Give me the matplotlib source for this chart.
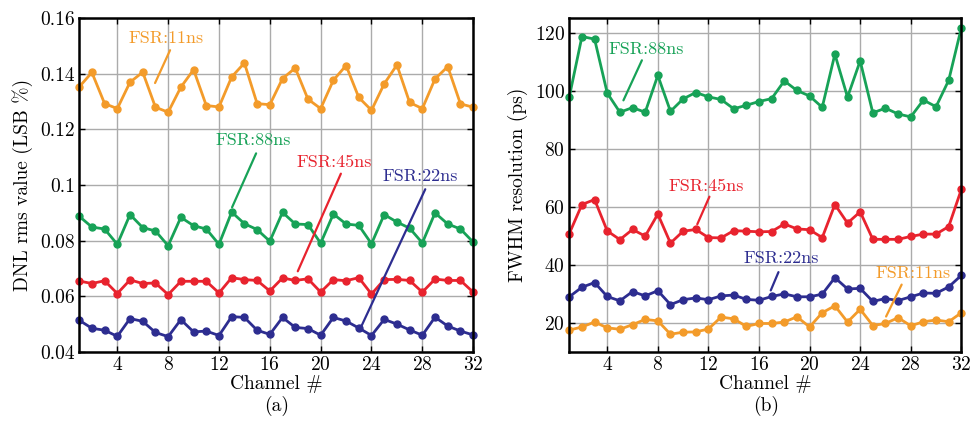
import matplotlib
matplotlib.use("Agg")
import matplotlib.pyplot as plt
import numpy as np

plt.rcParams["font.family"] = ["cmr10", "DejaVu Serif"]
plt.rcParams["axes.formatter.use_mathtext"] = True

channels = np.arange(1, 33)

# (a) DNL rms value (LSB %)
dnl_11ns = [0.1353, 0.1405, 0.1293, 0.1275, 0.1370, 0.1406, 0.1280, 0.1262,
            0.1352, 0.1415, 0.1286, 0.1281, 0.1389, 0.1439, 0.1293, 0.1289,
            0.1383, 0.1421, 0.1309, 0.1275, 0.1377, 0.1430, 0.1315, 0.1269,
            0.1364, 0.1432, 0.1297, 0.1275, 0.1382, 0.1426, 0.1292, 0.1280]
dnl_88ns = [0.0888, 0.0849, 0.0842, 0.0787, 0.0894, 0.0847, 0.0835, 0.0782,
            0.0884, 0.0854, 0.0842, 0.0787, 0.0903, 0.0861, 0.0840, 0.0798,
            0.0902, 0.0860, 0.0858, 0.0791, 0.0896, 0.0860, 0.0855, 0.0789,
            0.0894, 0.0867, 0.0845, 0.0792, 0.0900, 0.0860, 0.0842, 0.0795]
dnl_45ns = [0.0655, 0.0646, 0.0656, 0.0610, 0.0659, 0.0646, 0.0648, 0.0606,
            0.0654, 0.0654, 0.0654, 0.0612, 0.0667, 0.0660, 0.0657, 0.0619,
            0.0666, 0.0657, 0.0663, 0.0615, 0.0660, 0.0656, 0.0667, 0.0608,
            0.0660, 0.0661, 0.0657, 0.0615, 0.0662, 0.0657, 0.0657, 0.0615]
dnl_22ns = [0.0514, 0.0485, 0.0478, 0.0456, 0.0520, 0.0510, 0.0470, 0.0455,
            0.0516, 0.0472, 0.0475, 0.0459, 0.0527, 0.0524, 0.0478, 0.0463,
            0.0524, 0.0488, 0.0484, 0.0460, 0.0524, 0.0511, 0.0486, 0.0459,
            0.0517, 0.0500, 0.0479, 0.0460, 0.0525, 0.0493, 0.0475, 0.0461]

# (b) FWHM resolution (ps)
fwhm_88ns = [97.9, 118.7, 117.8, 99.2, 92.6, 94.2, 92.6, 105.3,
             92.9, 97.2, 99.4, 97.9, 97.0, 93.8, 95.0, 96.3,
             97.3, 103.4, 100.1, 98.2, 94.3, 112.6, 97.8, 110.3,
             92.4, 94.0, 92.0, 91.0, 96.8, 94.5, 103.6, 121.7]
fwhm_45ns = [50.8, 60.8, 62.5, 51.7, 48.7, 52.2, 49.9, 57.5,
             47.5, 51.6, 52.2, 49.4, 49.3, 51.8, 51.6, 51.4,
             51.5, 54.1, 52.4, 52.1, 49.4, 60.8, 54.4, 58.3,
             48.8, 48.8, 48.8, 49.8, 50.6, 50.6, 53.2, 66.0]
fwhm_22ns = [29.0, 32.3, 33.9, 29.1, 27.6, 30.8, 29.3, 31.1,
             26.3, 28.0, 28.6, 28.0, 29.3, 29.6, 28.1, 27.8,
             29.1, 30.0, 29.0, 29.0, 29.9, 35.6, 31.7, 31.9,
             27.4, 28.4, 27.7, 29.0, 30.3, 30.2, 32.4, 36.4]
fwhm_11ns = [17.5, 18.6, 20.3, 18.3, 17.8, 19.4, 21.2, 20.7,
             16.1, 16.8, 16.9, 17.9, 22.0, 21.4, 18.8, 19.8,
             19.8, 20.3, 22.1, 18.6, 23.5, 25.9, 20.3, 24.7,
             19.1, 19.8, 21.8, 19.0, 20.4, 21.0, 20.4, 23.5]

ORANGE = "#f39b2a"
GREEN = "#17a257"
RED = "#e8232e"
BLUE = "#2d2d90"

fig = plt.figure(figsize=(9.74, 4.24), dpi=100)
ax_a = fig.add_axes([0.0813, 0.170, 0.4045, 0.787])
ax_b = fig.add_axes([0.5845, 0.170, 0.4025, 0.787])


def style_axes(ax):
    ax.set_xlim(1, 32)
    ax.set_xticks(np.arange(4, 33, 4))
    ax.grid(True, color="#ababab", linewidth=1.0)
    ax.set_axisbelow(True)
    ax.tick_params(direction="in", top=True, right=True, labelsize=14,
                   length=4, width=1, pad=3)
    for spine in ax.spines.values():
        spine.set_linewidth(1.8)
    ax.set_xlabel("Channel #", fontsize=14, labelpad=1)


def note(ax, text, color, xy, xytext, line_end):
    ax.annotate("", xy=xy, xytext=line_end,
                arrowprops=dict(arrowstyle="-", color=color, lw=1.6,
                                shrinkA=0, shrinkB=0))
    ax.text(xytext[0], xytext[1], text, color=color, fontsize=13,
            ha="center", va="center")


# panel (a)
for vals, color in [(dnl_11ns, ORANGE), (dnl_88ns, GREEN),
                    (dnl_45ns, RED), (dnl_22ns, BLUE)]:
    ax_a.plot(channels, vals, color=color, lw=2, marker="o", ms=5, clip_on=False)
ax_a.set_ylim(0.04, 0.16)
ax_a.set_yticks([0.04, 0.06, 0.08, 0.1, 0.12, 0.14, 0.16])
ax_a.set_yticklabels(["0.04", "0.06", "0.08", "0.1", "0.12", "0.14", "0.16"])
style_axes(ax_a)
ax_a.set_ylabel("DNL rms value (LSB %)", fontsize=14, labelpad=5)
note(ax_a, "FSR:11ns", ORANGE, (6.97, 0.1367), (7.8, 0.1528), (8.15, 0.1485))
note(ax_a, "FSR:88ns", GREEN, (13.03, 0.092), (14.7, 0.1161), (14.92, 0.1114))
note(ax_a, "FSR:45ns", RED, (18.2, 0.069), (21.07, 0.1082), (21.59, 0.1041))
note(ax_a, "FSR:22ns", BLUE, (23.17, 0.0489), (27.83, 0.1032), (28.23, 0.0985))

# panel (b)
for vals, color in [(fwhm_88ns, GREEN), (fwhm_45ns, RED),
                    (fwhm_22ns, BLUE), (fwhm_11ns, ORANGE)]:
    ax_b.plot(channels, vals, color=color, lw=2, marker="o", ms=5, clip_on=False)
ax_b.set_ylim(10, 125)
ax_b.set_yticks([20, 40, 60, 80, 100, 120])
style_axes(ax_b)
ax_b.set_ylabel("FWHM resolution (ps)", fontsize=14, labelpad=5)
note(ax_b, "FSR:88ns", GREEN, (5.28, 96.7), (7.06, 114.3), (6.74, 110.5))
note(ax_b, "FSR:45ns", RED, (11.12, 54.0), (11.86, 67.0), (12.08, 63.5))
note(ax_b, "FSR:22ns", BLUE, (16.93, 31.2), (17.78, 42.2), (17.54, 37.5))
note(ax_b, "FSR:11ns", ORANGE, (26.05, 22.2), (28.18, 37.0), (27.28, 33.2))

fig.text(0.284, 0.043, "(a)", fontsize=14, ha="center", va="center")
fig.text(0.787, 0.043, "(b)", fontsize=14, ha="center", va="center")

fig.savefig("out.png", dpi=100)
